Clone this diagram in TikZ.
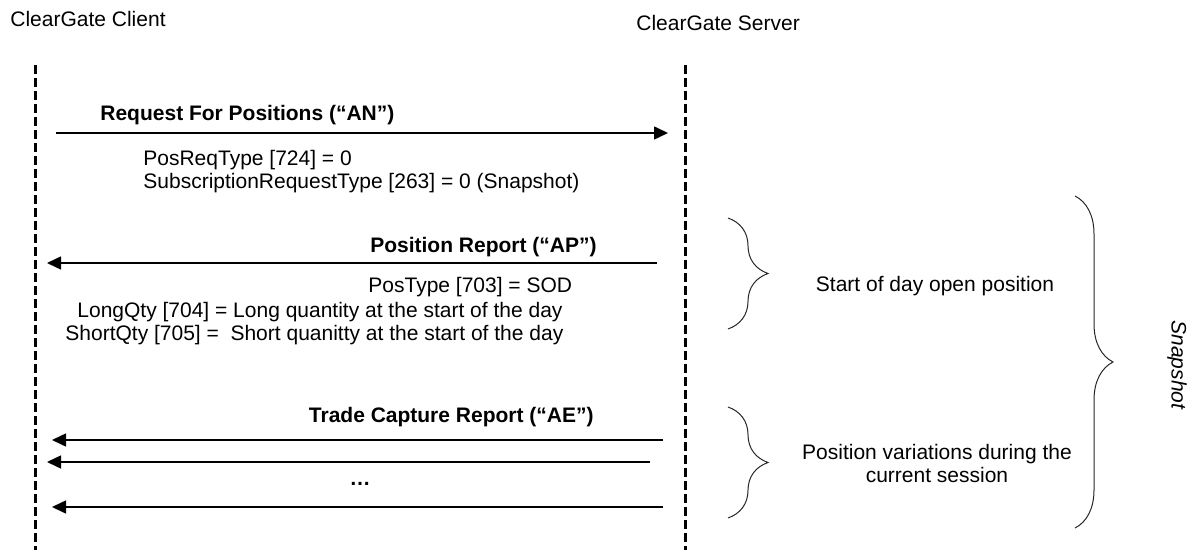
\documentclass[tikz,border=0pt]{standalone}
\usepackage{fontspec}
\setmainfont{Liberation Sans}
\usepackage{tikz}
\usetikzlibrary{arrows.meta}
\usetikzlibrary{decorations.pathreplacing}
\usetikzlibrary{positioning}
\newcommand{\cgfont}{\fontsize{10.5}{11.5}\selectfont}
\tikzstyle{lifeline}=[draw,line width=1.5pt,dash pattern=on 4.5pt off 2pt]
\tikzstyle{msg}=[draw,line width=0.75pt,-{Triangle[length=7pt,width=6.5pt]}]
\tikzstyle{msglabel}=[font=\cgfont\bfseries,inner sep=0pt]
\tikzstyle{field}=[font=\cgfont,inner sep=0pt,anchor=west]
\tikzstyle{grp}=[draw,black!85,line width=0.5pt,decorate,decoration={brace,amplitude=20pt}]
\tikzset{note/.style={font=\cgfont,inner sep=0pt,align=center}}

\begin{document}
\begin{tikzpicture}[x=0.5pt,y=-0.5pt]

  \useasboundingbox (0,0) rectangle (1198,550);

  % parties
  \node[note,anchor=west] (client) at (10,19) {ClearGate Client};
  \node[note,anchor=west] (server) at (636,23) {ClearGate Server};

  \foreach \name/\x in {cl/35, sv/685} {
    \coordinate (\name-top) at (\x,65);
    \coordinate (\name-bot) at (\x,550);
    \path[lifeline] (\name-top) -- (\name-bot);
  }

  % messages
  \foreach \name/\xa/\xb/\y in {an/56/668/133, ap/657/47/263, ae1/663/52/440, ae2/650/47/462, ae3/663/52/507} {
    \coordinate (\name-from) at (\xa,\y);
    \coordinate (\name-to) at (\xb,\y);
    \path[msg] (\name-from) -- (\name-to);
  }

  \node[msglabel,anchor=west] (an) at (100,115) {Request For Positions (“AN”)};
  \node[msglabel,anchor=east] (ap) at (597,247) {Position Report (“AP”)};
  \node[msglabel,anchor=east] (ae) at (594,417) {Trade Capture Report (“AE”)};
  \node[msglabel] (dots) at (360,484) {…};

  % fields
  \foreach \x/\y/\name/\label in {143/160/posreq/{PosReqType [724] = 0},
      143/183/subreq/{SubscriptionRequestType [263] = 0 (Snapshot)},
      368/287/postype/{PosType [703] = SOD},
      77/312/longqty/{LongQty [704] = Long quantity at the start of the day},
      65/335/shortqty/{ShortQty [705] =~ Short quanitty at the start of the day}}
          \node[field] (\name) at (\x,\y) {\label};

  % groups
  \path[grp] (728,218) -- (728,329);
  \path[grp] (728,407) -- (728,518);
  \path[grp,decoration={brace,amplitude=19pt}] (1075,196) -- (1075,528);

  \node[note] (sod) at (935,286) {Start of day open position};
  \node[note] (var) at (937,463) {Position variations during the\\current session};
  \node[note,font=\cgfont\itshape,rotate=-90] (snap) at (1177,365) {Snapshot};

\end{tikzpicture}
\end{document}
